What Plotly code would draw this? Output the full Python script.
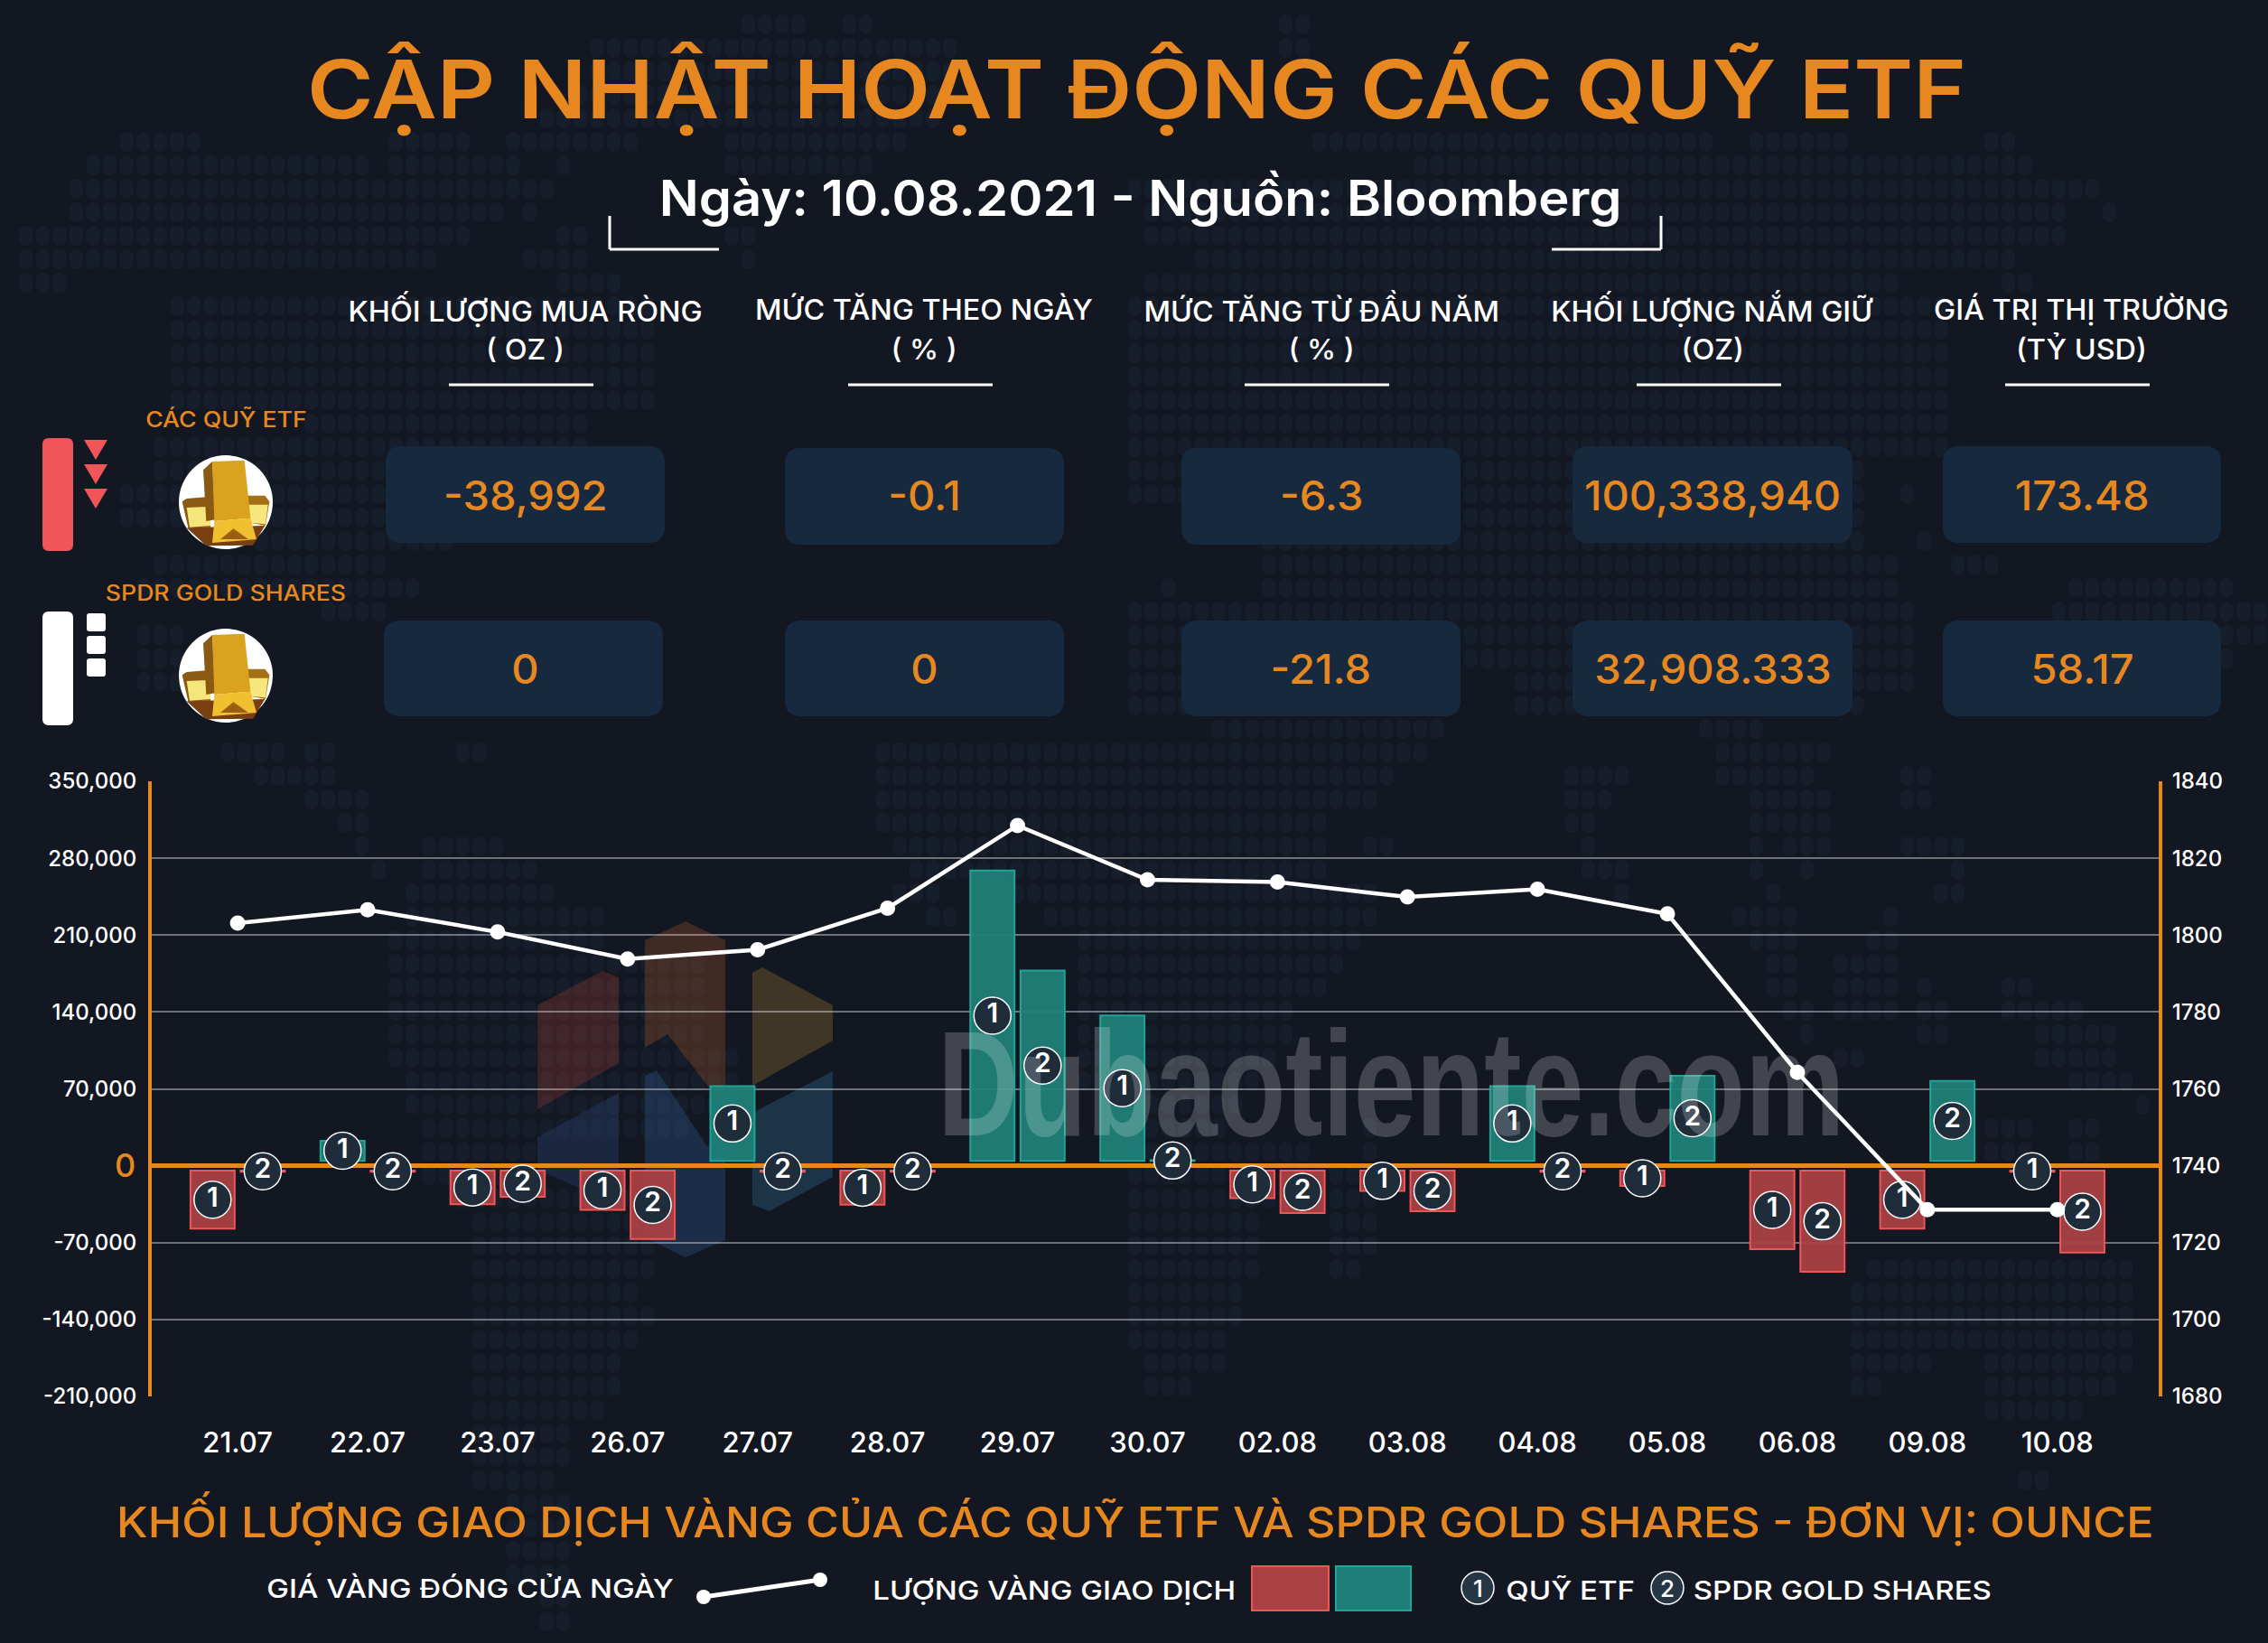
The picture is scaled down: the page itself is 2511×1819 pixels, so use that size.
import plotly.graph_objects as go

W, H = 2511, 1819
FONT = "Inter"
ORANGE = "#e6881f"
BG = "#131722"
CELL = "#17293f"
MAP_CELL = "#171e2b"

# DATA
dates = ["21.07", "22.07", "23.07", "26.07", "27.07", "28.07", "29.07", "30.07",
         "02.08", "03.08", "04.08", "05.08", "06.08", "09.08", "10.08"]
etf_flow = [-57300, 22700, -35000, -40200, 72400, -35400, 268800, 136800,
            -29400, -23000, 72400, -18300, -76000, -57300, -5500]
spdr_flow = [-5500, -5500, -28200, -66800, -5500, -5500, 177800, 5000,
             -43000, -41400, -5500, 81900, -96600, 77200, -79100]
gold_close = [1803.1, 1806.6, 1800.8, 1793.8, 1796.2, 1807.0, 1828.5, 1814.4,
              1813.8, 1809.9, 1811.9, 1805.5, 1764.3, 1728.6, 1728.6]
flow_ticks = [350000, 280000, 210000, 140000, 70000, 0, -70000, -140000, -210000]
price_ticks = [1840, 1820, 1800, 1780, 1760, 1740, 1720, 1700, 1680]

header_top = ["KHỐI LƯỢNG MUA RÒNG", "MỨC TĂNG THEO NGÀY", "MỨC TĂNG TỪ ĐẦU NĂM",
              "KHỐI LƯỢNG NẮM GIỮ", "GIÁ TRỊ THỊ TRƯỜNG"]
header_unit = ["( OZ )", "( % )", "( % )", "(OZ)", "(TỶ USD)"]
etf_values = ["-38,992", "-0.1", "-6.3", "100,338,940", "173.48"]
spdr_values = ["0", "0", "-21.8", "32,908.333", "58.17"]

# background world map: x spans of dots for each row, rows are 26 px apart starting at y=27
map_rows = [
    [(824, 892), (932, 964), (1428, 1460)], [(655, 1060), (1428, 1460)], [(655, 1060)], [(640, 1040)], [(610, 1040)],
    [(149, 221), (430, 518), (562, 707), (804, 1004), (1460, 1898), (1938, 2050), (2202, 2233)],
    [(112, 277), (297, 410), (430, 575), (615, 630), (804, 975), (1571, 2250)],
    [(92, 438), (450, 610), (1260, 2330)],
    [(76, 555), (580, 595), (1268, 2290), (2333, 2345)],
    [(20, 514), (615, 651), (804, 835), (1268, 2290)],
    [(20, 125), (149, 482), (595, 650), (820, 835), (1324, 2234)],
    [(36, 72), (627, 687), (1284, 2106), (2222, 2254)],
    [(189, 723), (1260, 2162)], [(189, 723), (1260, 2162)], [(189, 723), (1260, 2162)],
    [(189, 723), (1260, 2162)], [(189, 723), (1260, 2162)],
    [(354, 650), (1260, 2162)], [(170, 650), (1260, 2162)],
    [(170, 600), (1260, 2058), (2202, 2233)],
    [(149, 560), (1260, 2058), (2106, 2122)],
    [(149, 520), (1400, 2066)],
    [(280, 500), (1400, 2058), (2130, 2146)],
    [(180, 430), (1400, 2098), (2162, 2218)],
    [(165, 462), (1290, 1300), (1400, 2106), (2297, 2481)],
    [(360, 430), (1260, 2122), (2282, 2505)],
    [(167, 210), (1260, 2130), (2282, 2505)],
    [(167, 210), (1260, 2130), (2297, 2481)],
    [(167, 210), (1260, 1603), (1683, 2130)],
    [(1260, 1603), (1675, 2058)],
    [(1340, 1603), (1882, 1946)],
    [(245, 313), (337, 370), (506, 538), (972, 1579), (1906, 2026)],
    [(281, 370), (972, 1543), (1735, 1803), (1906, 2010), (2110, 2142)],
    [(337, 406), (972, 1523), (1735, 1787), (1942, 2026), (2110, 2142)],
    [(374, 406), (972, 1467), (1735, 1767), (1942, 2026)],
    [(394, 406), (466, 554), (988, 1467), (1515, 1543), (1755, 1767), (1942, 1954), (1978, 2026), (2110, 2174)],
    [(410, 426), (466, 591), (1008, 1467), (1755, 1803), (1942, 1954), (1998, 2010), (2166, 2174)],
    [(450, 611), (992, 1036), (1125, 1523), (1795, 1803), (1962, 1974), (2150, 2174)],
    [(450, 667), (1029, 1061), (1157, 1523), (1922, 1990), (2090, 2102)],
    [(430, 667), (1197, 1507), (1942, 1990), (2074, 2102)],
    [(430, 780), (1197, 1491), (1962, 1990), (2034, 2102)],
    [(430, 780), (1197, 1467), (1962, 1990), (2034, 2102), (2122, 2134), (2222, 2254)],
    [(430, 780), (1197, 1436), (1978, 2014), (2034, 2102), (2122, 2154), (2222, 2309)],
    [(430, 780), (1197, 1432), (1998, 2014), (2126, 2154), (2257, 2345)],
    [(430, 816), (1197, 1420), (2034, 2066), (2257, 2345)],
    [(450, 816), (1197, 1400), (2297, 2361)],
    [(450, 816), (1260, 1380), (2369, 2381)],
    [(466, 770), (1260, 1360), (1515, 1523), (2202, 2254), (2297, 2329)],
    [(466, 595), (1260, 1443), (1515, 1523), (2202, 2254), (2297, 2329)],
    [(480, 595), (1260, 1523)],
    [(520, 720), (1260, 1523)],
    [(522, 723), (1260, 1396), (1475, 1523)],
    [(522, 723), (1260, 1396), (1475, 1523)],
    [(522, 723), (1260, 1396), (1475, 1507), (2074, 2365)],
    [(522, 707), (1260, 1376), (2054, 2365)],
    [(522, 723), (1260, 1376), (2054, 2365)],
    [(522, 707), (1260, 1356), (2054, 2365)],
    [(538, 683), (1268, 1356), (2054, 2138), (2202, 2365)],
    [(538, 683), (1268, 1320), (2054, 2086), (2202, 2349)],
    [(538, 667), (2202, 2300)],
    [(540, 628)], [(540, 628)], [(540, 613), (2240, 2270)], [(560, 630)], [(560, 630)],
    [(560, 630)], [(570, 630)], [(600, 628)], [(600, 628)],
]


def px(x):
    return x / W


def py(y):
    return 1 - y / H


shapes = []
annotations = []


def text(x, y, s, size, color="white", weight=500, family=FONT):
    annotations.append(dict(x=px(x), y=py(y), xref="paper", yref="paper", text=s, showarrow=False,
                            xanchor="center", yanchor="middle", align="center",
                            font=dict(family=family, size=size, color=color, weight=weight)))


def poly(points, fill, layer="above"):
    d = "M" + " L".join(f"{px(a):.5f},{py(b):.5f}" for a, b in points) + " Z"
    shapes.append(dict(type="path", path=d, xref="paper", yref="paper", fillcolor=fill, layer=layer,
                       line=dict(width=0)))


def rounded(x0, y0, x1, y1, r, fill):
    rx, ry = r / W, r / H
    a, b, c, e = px(x0), px(x1), py(y0), py(y1)
    d = (f"M{a+rx:.5f},{c:.5f} L{b-rx:.5f},{c:.5f} Q{b:.5f},{c:.5f} {b:.5f},{c-ry:.5f} "
         f"L{b:.5f},{e+ry:.5f} Q{b:.5f},{e:.5f} {b-rx:.5f},{e:.5f} L{a+rx:.5f},{e:.5f} "
         f"Q{a:.5f},{e:.5f} {a:.5f},{e+ry:.5f} L{a:.5f},{c-ry:.5f} Q{a:.5f},{c:.5f} {a+rx:.5f},{c:.5f} Z")
    shapes.append(dict(type="path", path=d, xref="paper", yref="paper", fillcolor=fill,
                       line=dict(width=0), layer="below"))


def seg(x0, y0, x1, y1, color="white", width=3):
    shapes.append(dict(type="line", x0=px(x0), y0=py(y0), x1=px(x1), y1=py(y1), xref="paper", yref="paper",
                       line=dict(color=color, width=width), layer="above"))


def circle(cx, cy, r, fill, line_color=None, width=0):
    shapes.append(dict(type="circle", x0=px(cx - r), x1=px(cx + r), y0=py(cy - r), y1=py(cy + r),
                       xref="paper", yref="paper", fillcolor=fill,
                       line=dict(color=line_color or fill, width=width), layer="above"))


def gold_icon(cx, cy):
    circle(cx, cy, 52, "white")
    rel = lambda pts: [(cx + (a - 690) / 3, cy + (b - 347) / 3) for a, b in pts]
    poly(rel([(545, 345), (560, 335), (625, 330), (640, 430), (565, 432)]), "#8a5a14")
    poly(rel([(560, 365), (630, 362), (640, 425), (570, 430)]), "#f6e67c")
    poly(rel([(760, 325), (820, 325), (835, 345), (822, 425), (770, 415)]), "#a56f18")
    poly(rel([(765, 355), (830, 355), (822, 420), (772, 415)]), "#f6e67c")
    poly(rel([(560, 432), (820, 425), (780, 490), (625, 492)]), "#7a3f10")
    poly(rel([(615, 240), (645, 212), (655, 405), (625, 410)]), "#8a5a14")
    poly(rel([(645, 212), (752, 208), (772, 400), (652, 410)]), "#d9a21f")
    poly(rel([(652, 410), (772, 400), (792, 470), (645, 482)]), "#f0c030")
    poly(rel([(672, 470), (715, 435), (765, 470)]), "#9b5f10")


# BACKGROUND MAP
cells = []
for r, spans in enumerate(map_rows):
    cy = 27 + 26 * r
    for x0, x1 in spans:
        k = round((x0 - 10) / 18.6)
        while 10 + 18.6 * k <= x1:
            cx = 10 + 18.6 * k
            k += 1
            a, b, c, e = cx - 7.5, cx + 7.5, cy - 10.5, cy + 10.5
            pts = [(a + 4, c), (b - 4, c), (b, c + 4), (b, e - 4), (b - 4, e), (a + 4, e), (a, e - 4), (a, c + 4)]
            cells.append("M" + "L".join(f"{px(u):.4f},{py(v):.4f}" for u, v in pts) + "Z")
shapes.append(dict(type="path", path="".join(cells), xref="paper", yref="paper", fillcolor=MAP_CELL,
                   line=dict(width=0), layer="below"))

# HEADER
text(1259, 99, "CẬP NHẬT HOẠT ĐỘNG CÁC QUỸ ETF", 90, ORANGE, 600)
text(1262, 219, "Ngày: 10.08.2021 - Nguồn: Bloomberg", 55, "white", 600)
seg(675, 239, 675, 276)
seg(675, 276, 796, 276)
seg(1839, 239, 1839, 276)
seg(1718, 276, 1839, 276)

# TABLE
head_x = [581, 1023, 1463, 1896, 2304]
rule_x = [(497, 657), (939, 1099), (1378, 1538), (1812, 1972), (2220, 2380)]
cell_x = [(427, 736), (869, 1178), (1308, 1617), (1741, 2051), (2151, 2459)]
cell_y = [(494, 601), (496, 603), (496, 603), (494, 601), (494, 601)]
for i in range(5):
    text(head_x[i], 342, header_top[i], 31)
    text(head_x[i], 386, header_unit[i], 31)
    seg(rule_x[i][0], 426, rule_x[i][1], 426, "white", 3)
    x0, x1 = cell_x[i]
    y0, y1 = cell_y[i]
    rounded(x0, y0, x1, y1, 18, CELL)
    text((x0 + x1) / 2, 548, etf_values[i], 45, ORANGE)
    x0b = x0 - 2 if i == 0 else x0
    rounded(x0b, 687, x0b + x1 - x0, 793, 18, CELL)
    text((x0 + x1) / 2, 740, spdr_values[i], 45, ORANGE)

text(250, 465, "CÁC QUỸ ETF", 24, ORANGE)
text(250, 656, "SPDR GOLD SHARES", 24, ORANGE)
gold_icon(250, 556)
gold_icon(250, 748)
rounded(47, 485, 81, 610, 7, "#f05558")
for top in [487, 514, 541]:
    poly([(93, top), (119, top), (106, top + 22)], "#f05558")
rounded(47, 677, 81, 803, 7, "white")
for top in [679, 704, 729]:
    rounded(96, top, 117, top + 20, 3, "white")

# WATERMARK LOGO
logo = [
    ([(595, 1113), (667, 1075), (685, 1082), (685, 1177), (595, 1228)], "rgba(175,65,50,0.27)"),
    ([(714, 1041), (759, 1020), (803, 1041), (803, 1227), (739, 1145), (714, 1160)], "rgba(190,95,40,0.27)"),
    ([(833, 1077), (844, 1071), (922, 1113), (922, 1152), (833, 1202)], "rgba(190,140,50,0.27)"),
    ([(595, 1259), (685, 1210), (685, 1334), (595, 1295)], "rgba(45,75,130,0.3)"),
    ([(714, 1191), (727, 1185), (783, 1269), (803, 1257), (803, 1373), (759, 1392), (714, 1370)], "rgba(45,85,140,0.35)"),
    ([(833, 1232), (922, 1186), (922, 1303), (852, 1341), (833, 1334)], "rgba(45,105,140,0.35)"),
]
for pts, col in logo:
    poly(pts, col, layer="below")
# sits over the bars and badges, like the stamp in the original
text(1540, 1200, "Dubaotiente.com", 165, "rgba(255,255,255,0.2)", 700, "Liberation Sans")

# BOTTOM TITLE / LEGEND
text(1257, 1682, "KHỐI LƯỢNG GIAO DỊCH VÀNG CỦA CÁC QUỸ ETF VÀ SPDR GOLD SHARES - ĐƠN VỊ: OUNCE", 46, ORANGE)
text(520, 1758, "GIÁ VÀNG ĐÓNG CỬA NGÀY", 29)
seg(779, 1768, 908, 1749, "white", 5)
circle(779, 1768, 8, "white")
circle(908, 1749, 8, "white")
text(1167, 1760, "LƯỢNG VÀNG GIAO DỊCH", 29)
shapes.append(dict(type="rect", x0=px(1386), x1=px(1471), y0=py(1734), y1=py(1783), xref="paper", yref="paper",
                   fillcolor="#a84044", line=dict(color="#ee5555", width=2)))
shapes.append(dict(type="rect", x0=px(1479), x1=px(1562), y0=py(1734), y1=py(1783), xref="paper", yref="paper",
                   fillcolor="#1f7f78", line=dict(color="#1fa596", width=2)))
for cx, n in [(1636, "1"), (1846, "2")]:
    circle(cx, 1758, 18, "#263645", "white", 1.5)
    text(cx, 1758, n, 26)
text(1738, 1760, "QUỸ ETF", 29)
text(2040, 1760, "SPDR GOLD SHARES", 29)
text(138, 1290, "0", 36, ORANGE)

# CHART
GAP = 4500  # bars stop short of the zero line
OFFSET = 0.193
BAR_WIDTH = 0.34
fig = go.Figure()
for n, flow, sign in [("1", etf_flow, -1), ("2", spdr_flow, 1)]:
    xs = [i + sign * OFFSET for i in range(len(dates))]
    bases = [GAP if v > 0 else -GAP for v in flow]
    fig.add_trace(go.Bar(
        x=xs, y=[v - b for v, b in zip(flow, bases)], base=bases, width=BAR_WIDTH,
        marker=dict(color=["rgba(31,127,120,0.95)" if v > 0 else "rgba(168,64,68,0.95)" for v in flow],
                    line=dict(color=["#1fa596" if v > 0 else "#ee5555" for v in flow], width=2)),
        showlegend=False,
    ))
    fig.add_trace(go.Scatter(
        x=xs, y=[(v + b) / 2 for v, b in zip(flow, bases)], mode="markers+text",
        text=[n] * len(dates), textposition="middle center",
        textfont=dict(family=FONT, size=30, color="white", weight=600),
        marker=dict(size=41, color="#1f2d3b", line=dict(color="white", width=1.5)),
        showlegend=False,
    ))
fig.add_trace(go.Scatter(
    x=list(range(len(dates))), y=gold_close, mode="lines+markers", yaxis="y2",
    line=dict(color="white", width=4.5), marker=dict(size=17, color="white"), showlegend=False,
))

fig.update_layout(
    width=W, height=H, margin=dict(l=0, r=0, t=0, b=0, autoexpand=False),
    paper_bgcolor=BG, plot_bgcolor="rgba(0,0,0,0)",
    shapes=shapes, annotations=annotations,
    xaxis=dict(domain=[px(168), px(2390)], range=[-0.661, 14.78], tickmode="array",
               tickvals=list(range(len(dates))), ticktext=dates, showgrid=False, zeroline=False,
               ticks="outside", ticklen=24, tickcolor="rgba(0,0,0,0)",
               tickfont=dict(family=FONT, size=31, color="white", weight=500)),
    yaxis=dict(domain=[py(1546), py(865)], range=[-210000, 350000], tickmode="array",
               tickvals=flow_ticks, ticktext=[f"{v:,}" if v else " " for v in flow_ticks],
               gridcolor="rgba(205,205,210,0.5)", gridwidth=1.5,
               zeroline=True, zerolinecolor=ORANGE, zerolinewidth=5,
               showline=True, linecolor=ORANGE, linewidth=4,
               ticks="outside", ticklen=8, tickcolor="rgba(0,0,0,0)",
               tickfont=dict(family=FONT, size=24, color="white", weight=500)),
    yaxis2=dict(overlaying="y", side="right", anchor="x", range=[1680, 1840], tickmode="array",
                tickvals=price_ticks, showgrid=False, zeroline=False,
                showline=True, linecolor=ORANGE, linewidth=4,
                ticks="outside", ticklen=6, tickcolor="rgba(0,0,0,0)",
                tickfont=dict(family=FONT, size=24, color="white", weight=500)),
)

# the original face is wider than the installed ones: widen the annotation glyphs per font size
post = """
document.body.style.margin='0';document.body.style.overflow='hidden';
var wide={90:1.11,55:1.054,46:1.094,45:1.045,31:1.045,29:1.14,24:1.11};
document.querySelectorAll('.annotation-text').forEach(function(t){
  if(t.textContent==='Dubaotiente.com'){t.setAttribute('textLength',1004);t.setAttribute('lengthAdjust','spacingAndGlyphs');return;}
  var f=wide[parseFloat(t.style.fontSize)];
  if(f){t.setAttribute('textLength',t.getComputedTextLength()*f);t.setAttribute('lengthAdjust','spacingAndGlyphs');}
});
"""
fig.write_html("out.html", config={"displayModeBar": False}, post_script=post)
